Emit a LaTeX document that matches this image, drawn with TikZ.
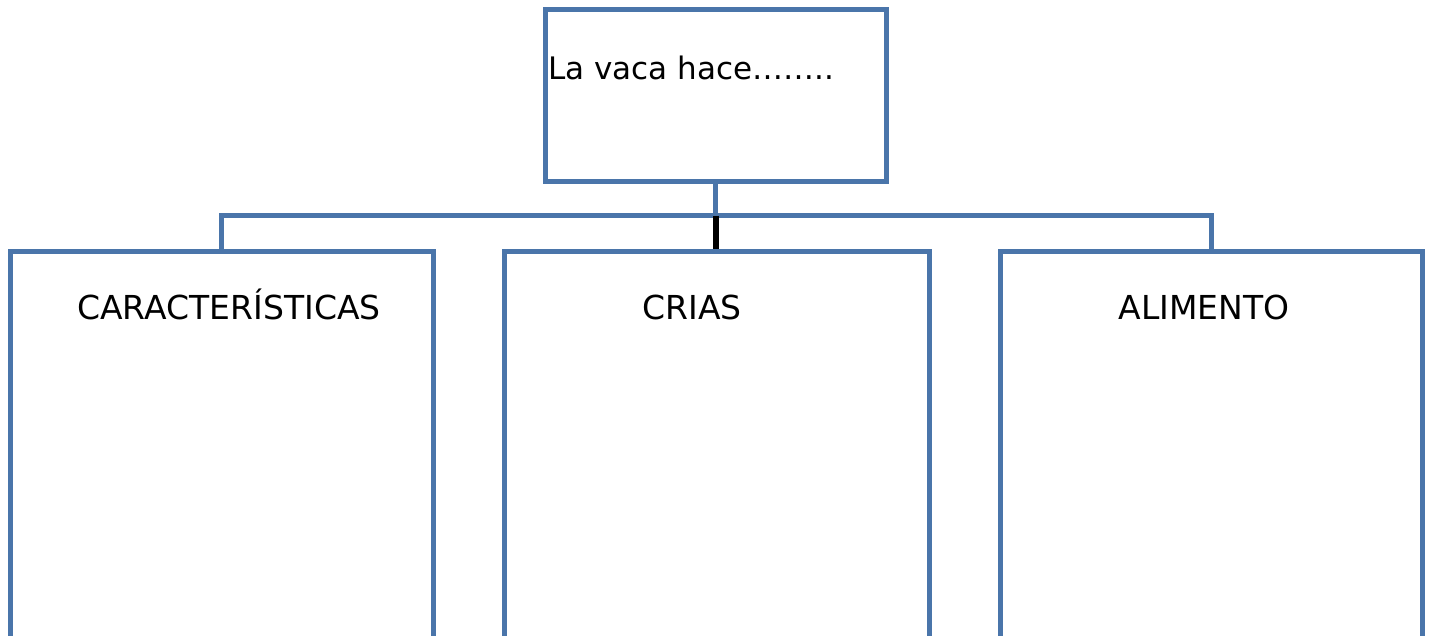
\documentclass[tikz,border=0pt]{standalone}
\usepackage{fontspec}
\setmainfont{DejaVu Sans}
\definecolor{boxblue}{RGB}{74,117,170}
\begin{document}
\begin{tikzpicture}[x=1pt, y=-1pt,
    box/.style={draw=boxblue, line width=5pt, inner sep=0pt, minimum height=400pt},
    link/.style={draw=boxblue, line width=5pt},
    lbl/.style={anchor=base, inner sep=0pt, font=\fontsize{33}{38}\selectfont}]
    \useasboundingbox (0, 0) rectangle (1431, 636);
    \node [box, minimum width=341pt, minimum height=172pt] (vaca) at (715.5, 96) {};
    \node [box, minimum width=423pt] (carac) at (221.5, 452) {};
    \node [box, minimum width=425pt] (crias) at (716.5, 452) {};
    \node [box, minimum width=422pt] (alim) at (1211, 452) {};
    \coordinate (bar) at (715.5, 216);
    \draw [link] (vaca.south) -- (bar);
    \draw [link] (carac.north) |- (bar) -| (alim.north);
    \draw [black, line width=6pt] (bar) -- (bar |- crias.north);
    \node [anchor=base west, inner sep=0pt, font=\fontsize{31}{36}\selectfont] (vacatxt) at (548, 80) {La vaca hace……..};
    \node [lbl] (caractxt) at (229, 319) {CARACTERÍSTICAS};
    \node [lbl] (criastxt) at (692, 319) {CRIAS};
    \node [lbl] (alimtxt) at (1204, 319) {ALIMENTO};
  \end{tikzpicture}
\end{document}
